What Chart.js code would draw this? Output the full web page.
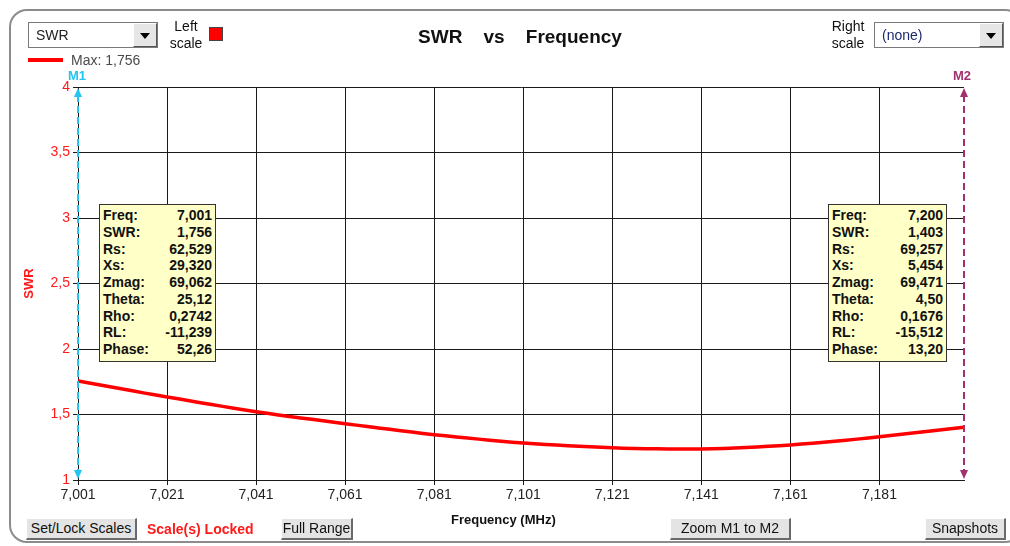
<!DOCTYPE html>
<html>
<head>
<meta charset="utf-8">
<script src="https://cdn.jsdelivr.net/npm/chart.js@4"></script>
<style>
  body { margin: 0; width: 1010px; height: 546px; overflow: hidden; background: #fff; font-family: Arial, "Liberation Sans", sans-serif; }
  .abs { position: absolute; }
  #panel { left: 9px; top: 9px; width: 1010px; height: 530px; border: 2px solid #8c8c8c; border-radius: 18px; }
  #cv { left: 0; top: 0; }
  .drop { background: #fff; border: 1px solid #7a7a7a; box-sizing: border-box; font-size: 14px; color: #222; }
  .drop span { position: absolute; left: 7px; top: 4px; }
  .drop .arr { position: absolute; right: 0; top: 0; width: 24px; height: 100%; box-sizing: border-box; background: #e6e6e6;
               border-top: 1px solid #fff; border-left: 1px solid #fff; border-right: 1px solid #555; border-bottom: 1px solid #555; }
  .drop .arr::after { content: ""; position: absolute; left: 6px; top: 9px; border-left: 5px solid transparent; border-right: 5px solid transparent; border-top: 6px solid #000; }
  .lbl2 { font-size: 14px; line-height: 17px; color: #111; text-align: center; }
  .btn { font-size: 14px; color: #111; background: #e4e4e4; box-sizing: border-box; text-align: center; line-height: 19px;
         border-top: 1px solid #fff; border-left: 1px solid #fff; border-right: 2px solid #6a6a6a; border-bottom: 2px solid #6a6a6a; }
  .info { background: #ffffc8; border: 1px solid #333; box-sizing: border-box; padding: 2px 3px 0 3px; font-size: 14px; font-weight: bold; color: #111; }
  .info div { display: flex; justify-content: space-between; line-height: 16.75px; height: 16.75px; }
</style>
</head>
<body>
<div id="panel" class="abs"></div>
<canvas id="cv" class="abs" width="1010" height="546"></canvas>

<div class="abs drop" style="left:28px;top:22px;width:130px;height:26px;"><span>SWR</span><div class="arr"></div></div>
<div class="abs lbl2" style="left:166px;top:18px;width:40px;">Left<br>scale</div>
<div class="abs" style="left:209px;top:27px;width:12px;height:12px;background:#ff0000;border:1px solid #444;"></div>
<div class="abs" style="left:28px;top:58px;width:35px;height:4px;background:#ff0000;"></div>
<div class="abs" style="left:71px;top:52px;font-size:14px;color:#4a4a4a;">Max: 1,756</div>
<div class="abs" style="left:0;top:26px;width:1040px;text-align:center;font-size:19px;font-weight:bold;color:#111;white-space:pre;">SWR    vs    Frequency</div>
<div class="abs lbl2" style="left:828px;top:18px;width:40px;">Right<br>scale</div>
<div class="abs drop" style="left:874px;top:22px;width:130px;height:26px;"><span style="color:#1b2a6b;">(none)</span><div class="arr"></div></div>

<div class="abs" style="left:68px;top:68px;font-size:13px;font-weight:bold;color:#22c4f2;">M1</div>
<div class="abs" style="left:953px;top:68px;font-size:13px;font-weight:bold;color:#a3306e;">M2</div>

<div class="abs" style="left:451px;top:512px;font-size:13px;font-weight:bold;color:#111;">Frequency (MHz)</div>
<div class="abs btn" style="left:26px;top:518px;width:111px;height:22px;">Set/Lock Scales</div>
<div class="abs" style="left:147px;top:521px;font-size:14px;font-weight:bold;color:#ff1a1a;">Scale(s) Locked</div>
<div class="abs btn" style="left:281px;top:518px;width:72px;height:22px;">Full Range</div>
<div class="abs btn" style="left:670px;top:518px;width:121px;height:22px;">Zoom M1 to M2</div>
<div class="abs btn" style="left:925px;top:518px;width:81px;height:22px;">Snapshots</div>

<div class="abs info" style="left:99px;top:204px;width:117px;height:158px;" id="box1"></div>
<div class="abs info" style="left:828px;top:204px;width:119px;height:158px;" id="box2"></div>

<script>
// sweep, MHz
const freqs = [7.001, 7.006, 7.011, 7.016, 7.021, 7.026, 7.031, 7.036, 7.041, 7.046,
  7.051, 7.056, 7.061, 7.066, 7.071, 7.076, 7.081, 7.086, 7.091, 7.096,
  7.101, 7.106, 7.111, 7.116, 7.121, 7.126, 7.131, 7.136, 7.141, 7.146,
  7.151, 7.156, 7.161, 7.166, 7.171, 7.176, 7.181, 7.186, 7.191, 7.196, 7.200];
const swr = [1.756, 1.725, 1.695, 1.663, 1.634, 1.605, 1.576, 1.548, 1.521, 1.497,
  1.474, 1.452, 1.430, 1.408, 1.387, 1.366, 1.346, 1.329, 1.312, 1.296,
  1.282, 1.271, 1.262, 1.253, 1.246, 1.241, 1.238, 1.236, 1.237, 1.241,
  1.248, 1.257, 1.268, 1.281, 1.296, 1.312, 1.330, 1.349, 1.368, 1.387, 1.403];
const xTicks = [7.001, 7.021, 7.041, 7.061, 7.081, 7.101, 7.121, 7.141, 7.161, 7.181];
const yTicks = [1, 1.5, 2, 2.5, 3, 3.5, 4];

const infoLabels = ["Freq:", "SWR:", "Rs:", "Xs:", "Zmag:", "Theta:", "Rho:", "RL:", "Phase:"];
const m1Values = ["7,001", "1,756", "62,529", "29,320", "69,062", "25,12", "0,2742", "-11,239", "52,26"];
const m2Values = ["7,200", "1,403", "69,257", "5,454", "69,471", "4,50", "0,1676", "-15,512", "13,20"];
const markers = [
  { name: "M1", freq: 7.001, color: "#22c4f2" },
  { name: "M2", freq: 7.200, color: "#a3306e" }
];

function fillBox(id, vals) {
  let html = "";
  for (let i = 0; i < infoLabels.length; i++) {
    html += `<div><span>${infoLabels[i]}</span><span>${vals[i]}</span></div>`;
  }
  document.getElementById(id).innerHTML = html;
}
fillBox("box1", m1Values);
fillBox("box2", m2Values);

const comma = v => String(v).replace(".", ",");

// dashed marker lines with arrows at both ends
const markerPlugin = {
  id: "markers",
  afterDraw(chart) {
    const ctx = chart.ctx;
    const area = chart.chartArea;
    const xs = chart.scales.x;
    for (const m of markers) {
      const x = Math.round(xs.getPixelForValue(m.freq));
      ctx.save();
      ctx.strokeStyle = m.color;
      ctx.fillStyle = m.color;
      ctx.lineWidth = 2;
      ctx.setLineDash([7, 4]);
      ctx.beginPath();
      ctx.moveTo(x, area.top + 8);
      ctx.lineTo(x, area.bottom - 8);
      ctx.stroke();
      ctx.setLineDash([]);
      ctx.beginPath();
      ctx.moveTo(x, area.top + 1);
      ctx.lineTo(x - 4, area.top + 10);
      ctx.lineTo(x + 4, area.top + 10);
      ctx.fill();
      ctx.beginPath();
      ctx.moveTo(x, area.bottom - 1);
      ctx.lineTo(x - 4, area.bottom - 10);
      ctx.lineTo(x + 4, area.bottom - 10);
      ctx.fill();
      ctx.restore();
    }
  }
};

new Chart(document.getElementById("cv"), {
  type: "line",
  data: {
    labels: freqs,
    datasets: [{
      data: freqs.map((f, i) => ({ x: f, y: swr[i] })),
      borderColor: "#ff0000",
      borderWidth: 3.5,
      pointRadius: 0,
      tension: 0.3,
      fill: false
    }]
  },
  options: {
    responsive: false,
    animation: false,
    layout: { padding: { left: 0, top: 87, right: 46, bottom: 0 } },
    plugins: { legend: { display: false }, tooltip: { enabled: false } },
    scales: {
      x: {
        type: "linear",
        min: 7.001,
        max: 7.200,
        afterBuildTicks: s => { s.ticks = xTicks.map(v => ({ value: v })); },
        afterFit: s => { s.height = 66; s.paddingLeft = 0; s.paddingRight = 0; },
        grid: { color: "#1a1a1a", lineWidth: 1, tickLength: 5 },
        border: { color: "#1a1a1a", width: 1 },
        ticks: {
          color: "#222",
          font: { family: "Arial", size: 14 },
          padding: 2,
          maxRotation: 0,
          autoSkip: false,
          callback: v => v.toFixed(3).replace(".", ",")
        }
      },
      y: {
        min: 1,
        max: 4,
        afterBuildTicks: s => { s.ticks = yTicks.map(v => ({ value: v })); },
        afterFit: s => { s.width = 78; s.paddingTop = 0; s.paddingBottom = 0; },
        grid: { color: "#1a1a1a", lineWidth: 1, tickLength: 5 },
        border: { color: "#1a1a1a", width: 1 },
        title: {
          display: true,
          text: "SWR",
          color: "#ff1a1a",
          font: { family: "Arial", size: 13, weight: "bold" },
          padding: { top: 22, bottom: 0 }
        },
        ticks: {
          color: "#ff1a1a",
          font: { family: "Arial", size: 14 },
          padding: 3,
          callback: v => comma(v)
        }
      }
    }
  },
  plugins: [markerPlugin]
});
</script>
</body>
</html>
